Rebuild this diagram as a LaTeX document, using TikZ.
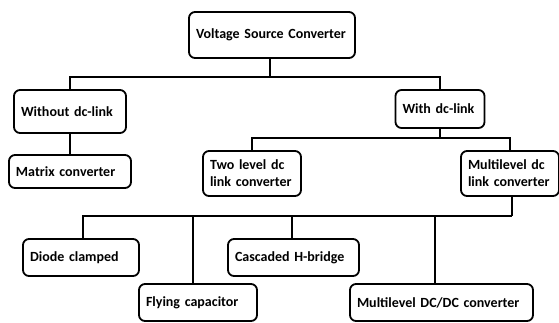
\documentclass[tikz,border=0pt]{standalone}
\usepackage{fontspec}
\setmainfont{Carlito}
\usetikzlibrary{positioning}

\begin{document}
\begin{tikzpicture}[
    x=1pt, y=-1pt,
    box/.style={rectangle, draw, line width=1.8pt, rounded corners=6pt,
                align=left, inner xsep=7pt, inner ysep=3pt,
                font=\bfseries\fontsize{14}{17}\selectfont},
    link/.style={line width=2pt},
]
\useasboundingbox (0,0) rectangle (559,322);

\node[box, minimum height=46pt, text width=152pt] (vsc) at (272,35) {Voltage Source Converter};
\node[box, minimum height=43pt, text width=98pt] (nodc) at (70,111.5) {Without dc-link};
\node[box, minimum height=38pt, text width=75pt] (wdc) at (440,109) {With dc-link};
\node[box, minimum height=33pt, text width=108pt] (matrix) at (70,171.5) {Matrix converter};
\node[box, minimum height=45pt, text width=84pt] (twolvl) at (252,173.5) {Two level dc\\link converter};
\node[box, minimum height=45pt, text width=84pt] (mlvl) at (510,173.5) {Multilevel dc\\link converter};
\node[box, minimum height=37pt, text width=102pt] (diode) at (81,257.5) {Diode clamped};
\node[box, minimum height=37pt, text width=104pt] (flying) at (198,302.5) {Flying capacitor};
\node[box, minimum height=37pt, text width=117pt] (cascade) at (293.5,257.5) {Cascaded H-bridge};
\node[box, minimum height=37pt, text width=169pt] (mdcdc) at (441.5,302.5) {Multilevel DC/DC converter};

% first level
\draw[link] ([xshift=-2pt]vsc.south) -- ++(0,18) coordinate (busA);
\draw[link] (nodc.north) |- (busA) -| (wdc.north);
\draw[link] (nodc) -- (matrix);

% dc-link branch
\draw[link] (wdc.south) -- ++(0,9) coordinate (busB);
\draw[link] (twolvl.north) |- (busB) -| (mlvl.north);

% multilevel topologies
\draw[link] ([xshift=2pt]mlvl.south) -- ++(0,19) coordinate (busC);
\draw[link] ([xshift=2pt]diode.north) |- (busC);
\draw[link] ([xshift=-5pt]flying.north) |- (busC);
\draw[link] ([xshift=-1.5pt]cascade.north) |- (busC);
\draw[link] ([xshift=-6.5pt]mdcdc.north) |- (busC);
\end{tikzpicture}
\end{document}
